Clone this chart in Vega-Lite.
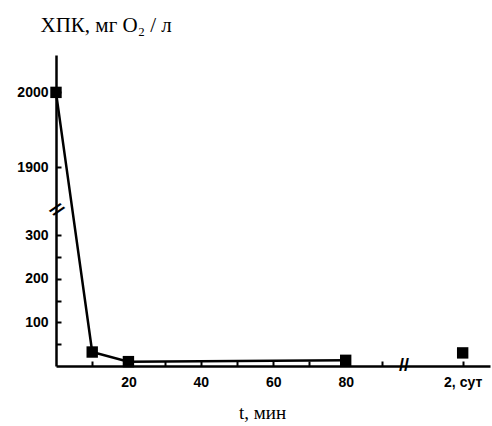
{
  "$schema": "https://vega.github.io/schema/vega-lite/v6.json",
  "width": 434,
  "height": 311,
  "autosize": "none",
  "padding": {"left": 56, "top": 55, "right": 2, "bottom": 60},
  "background": "white",
  "config": {
    "view": {"stroke": null},
    "axis": {
      "grid": false,
      "domainColor": "black",
      "domainWidth": 2.5,
      "tickColor": "black",
      "tickWidth": 2,
      "tickSize": -5,
      "labelFont": "Liberation Sans",
      "labelFontWeight": "bold",
      "labelFontSize": 14,
      "labelColor": "black",
      "titleColor": "black",
      "titleFont": "Liberation Serif",
      "titleFontWeight": "normal"
    }
  },
  "datasets": {
    "series": [
      {"t": 0, "cod": 2000, "grp": "a"},
      {"t": 10, "cod": 32, "grp": "a"},
      {"t": 20, "cod": 10, "grp": "a"},
      {"t": 80, "cod": 13, "grp": "a"},
      {"t": 2880, "cod": 30, "grp": "b"}
    ],
    "breaks": [
      {"t": 0, "cod": 1000, "sym": "//", "ang": 45},
      {"t": 1500, "cod": 0, "sym": "//", "ang": 0}
    ]
  },
  "layer": [
    {
      "data": {"name": "series"},
      "transform": [{"filter": "datum.grp == 'a'"}],
      "mark": {"type": "line", "color": "black", "strokeWidth": 2.5, "clip": false},
      "encoding": {
        "x": {
          "field": "t", "type": "quantitative",
          "scale": {"domain": [0, 95, 2850, 2895], "range": [0, 344, 352, 434], "nice": false, "zero": false},
          "axis": {
            "values": [10, 20, 30, 40, 50, 60, 70, 80, 90, 2880],
            "labelExpr": "datum.value == 2880 ? '2, сут' : (datum.value % 20 == 0 ? datum.label : '')",
            "format": "d",
            "labelPadding": 14,
            "labelFlush": false,
            "labelOverlap": false,
            "title": "t, мин",
            "titleFontSize": 19,
            "titleX": 206,
            "titleY": 52,
            "titleAlign": "center",
            "titleBaseline": "alphabetic"
          }
        },
        "y": {
          "field": "cod", "type": "quantitative",
          "scale": {"domain": [0, 355, 1844, 2050], "range": [311, 156, 154, 0], "nice": false, "zero": false},
          "axis": {
            "values": [50, 100, 150, 200, 250, 300, 1900, 2000],
            "labelExpr": "datum.value % 100 == 0 ? datum.label : ''",
            "format": "d",
            "labelPadding": 13,
            "labelOverlap": false,
            "labelFlush": false,
            "title": "ХПК, мг O₂ / л",
            "titleFontSize": 21,
            "titleAngle": 0,
            "titleX": -16,
            "titleY": -24,
            "titleAlign": "left",
            "titleBaseline": "alphabetic"
          }
        }
      }
    },
    {
      "data": {"name": "series"},
      "mark": {"type": "square", "color": "black", "filled": true, "opacity": 1, "size": 130, "clip": false},
      "encoding": {
        "x": {"field": "t", "type": "quantitative"},
        "y": {"field": "cod", "type": "quantitative"}
      }
    },
    {
      "data": {"name": "breaks"},
      "mark": {"type": "text", "font": "Liberation Sans", "fontSize": 18, "fontWeight": "bold", "color": "black", "clip": false},
      "encoding": {
        "x": {"field": "t", "type": "quantitative"},
        "y": {"field": "cod", "type": "quantitative"},
        "text": {"field": "sym"},
        "angle": {"field": "ang", "type": "quantitative", "scale": null}
      }
    }
  ]
}
